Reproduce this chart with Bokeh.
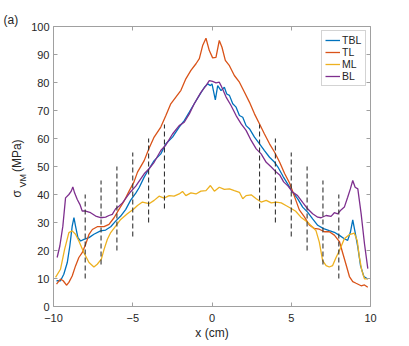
from bokeh.plotting import figure
from bokeh.models import LinearAxis, Legend, LegendItem, FixedTicker, Range1d, Title
from bokeh.embed import file_html
from bokeh.resources import INLINE

# ---- data ----
tbl_x = [-9.81, -9.56, -9.35, -9.13, -8.97, -8.82, -8.71, -8.61, -8.46, -8.29, -8.08, -7.76, -7.45, -7.03,
         -6.71, -6.39, -6.08, -5.76, -5.44, -5.13, -4.81, -4.6, -4.28, -3.97, -3.65, -3.23, -2.91, -2.49,
         -2.07, -1.75, -1.43, -1.12, -0.8, -0.48, -0.27, -0.1, 0.0, 0.21, 0.36, 0.57, 0.78, 0.93, 1.1,
         1.31, 1.52, 1.73, 1.94, 2.15, 2.36, 2.68, 3.0, 3.31, 3.63, 3.95, 4.16, 4.48, 4.8, 5.06, 5.4,
         5.72, 6.03, 6.35, 6.67, 7.04, 7.4, 7.72, 8.04, 8.35, 8.56, 8.73, 8.88, 9.03, 9.2, 9.37, 9.58, 9.83]
tbl_y = [9.2, 9.2, 11.5, 15.7, 21.6, 28.7, 31.7, 28.7, 24.6, 23.4, 24.0, 24.6, 25.8, 27.0,
         27.3, 28.5, 30.5, 32.3, 34.7, 38.0, 40.5, 42.4, 46.2, 49.2, 52.1, 54.5, 58.1, 60.5,
         64.1, 66.4, 69.4, 72.4, 75.4, 78.3, 79.5, 78.9, 79.5, 73.8, 78.9, 77.1, 78.3, 75.9, 75.4,
         72.4, 71.2, 68.2, 67.6, 64.6, 63.5, 60.5, 58.1, 55.7, 53.3, 51.5, 49.8, 46.5, 43.5, 41.0, 38.5,
         35.5, 33.7, 31.3, 29.0, 27.8, 27.1, 26.5, 25.4, 24.2, 23.6, 26.5, 30.9, 26.5, 21.2, 14.6, 10.7, 9.8]

tl_x = [-9.81, -9.56, -9.39, -9.18, -9.03, -8.82, -8.61, -8.4, -8.19, -7.97, -7.76, -7.55, -7.24, -6.81,
        -6.5, -6.18, -5.87, -5.55, -5.23, -4.92, -4.7, -4.28, -3.97, -3.65, -3.23, -2.91, -2.6, -2.28,
        -1.96, -1.65, -1.33, -1.01, -0.8, -0.59, -0.38, -0.17, 0.04, 0.25, 0.46, 0.63, 0.84, 1.1, 1.41,
        1.73, 2.05, 2.36, 2.68, 3.0, 3.31, 3.63, 3.95, 4.27, 4.58, 4.9, 5.19, 5.51, 5.82, 6.14, 6.45,
        6.77, 7.09, 7.4, 7.72, 8.04, 8.25, 8.46, 8.67, 8.88, 9.09, 9.41, 9.62, 9.83]
tl_y = [8.0, 9.8, 9.2, 7.6, 8.6, 10.9, 14.5, 17.5, 19.2, 22.2, 25.8, 27.5, 28.5, 28.5,
        29.3, 31.7, 34.7, 37.6, 41.2, 44.5, 48.0, 52.1, 56.5, 60.5, 64.1, 68.2, 72.4, 74.8,
        77.2, 81.3, 84.3, 86.7, 88.5, 93.2, 95.8, 91.4, 88.8, 89.0, 95.0, 92.6, 87.9, 86.0, 82.5,
        80.1, 76.5, 73.0, 68.8, 65.2, 61.6, 58.1, 55.1, 51.5, 47.5, 44.0, 39.5, 34.5, 32.1, 29.1, 27.9,
        27.6, 26.7, 26.7, 25.5, 23.2, 19.0, 14.9, 10.7, 8.9, 8.3, 7.4, 7.7, 6.9]

ml_x = [-9.87, -9.56, -9.3, -9.03, -8.82, -8.61, -8.4, -8.08, -7.76, -7.45, -7.24, -6.98, -6.81, -6.6,
        -6.39, -6.08, -5.76, -5.34, -4.92, -4.7, -4.39, -3.97, -3.65, -3.34, -3.02, -2.7, -2.39, -2.07,
        -1.86, -1.65, -1.33, -1.01, -0.7, -0.38, -0.1, 0.15, 0.46, 0.78, 1.1, 1.41, 1.73, 1.94, 2.15,
        2.47, 2.79, 3.1, 3.42, 3.74, 4.05, 4.37, 4.69, 5.0, 5.28, 5.61, 6.03, 6.35, 6.56, 6.77, 6.98,
        7.2, 7.4, 7.61, 7.82, 8.04, 8.35, 8.67, 8.98, 9.16, 9.3, 9.45, 9.62, 9.83]
ml_y = [10.4, 13.3, 20.4, 26.4, 27.0, 25.8, 23.4, 19.2, 15.7, 14.1, 15.1, 16.9, 20.4, 24.0,
        26.4, 28.7, 31.1, 33.1, 34.9, 36.1, 37.3, 36.7, 37.9, 39.4, 38.7, 39.6, 39.4, 40.2,
        41.1, 39.6, 40.6, 40.2, 41.2, 41.4, 43.2, 41.2, 42.6, 41.8, 42.0, 41.4, 40.8, 38.5, 39.6,
        39.9, 38.5, 37.3, 37.9, 37.0, 37.3, 37.0, 36.0, 35.0, 34.0, 31.9, 30.1, 28.3, 27.1, 23.0, 16.4,
        14.6, 14.1, 14.6, 17.4, 20.0, 24.2, 25.7, 26.2, 23.6, 17.6, 12.9, 9.9, 9.9]

bl_x = [-9.77, -9.6, -9.41, -9.24, -9.03, -8.88, -8.78, -8.67, -8.5, -8.33, -8.19, -7.97, -7.66, -7.34,
        -7.03, -6.71, -6.5, -6.29, -6.08, -5.87, -5.65, -5.34, -5.13, -4.81, -4.28, -3.97, -3.65, -3.23,
        -2.91, -2.49, -2.07, -1.75, -1.43, -1.12, -0.7, -0.38, -0.17, 0.04, 0.25, 0.46, 0.57, 0.89, 1.2,
        1.52, 1.84, 2.15, 2.47, 2.79, 3.1, 3.42, 3.74, 4.05, 4.27, 4.52, 4.8, 5.06, 5.4, 5.72, 6.03,
        6.35, 6.67, 6.88, 7.2, 7.51, 7.72, 7.93, 8.14, 8.35, 8.56, 8.73, 8.88, 9.03, 9.2, 9.41, 9.62, 9.83]
bl_y = [17.5, 21.6, 28.7, 38.8, 40.0, 41.2, 42.7, 40.6, 38.2, 36.4, 34.1, 34.1, 33.5, 32.3,
        31.7, 31.9, 32.5, 32.9, 34.9, 35.8, 37.0, 39.4, 41.0, 43.0, 47.4, 49.2, 51.5, 55.7,
        57.7, 61.6, 64.6, 65.8, 68.8, 72.4, 76.5, 78.9, 80.7, 80.4, 79.9, 80.1, 78.9, 74.8, 71.8,
        68.2, 65.2, 62.9, 59.3, 56.3, 54.5, 51.5, 49.8, 48.0, 47.0, 44.5, 43.0, 41.0, 39.6, 37.2, 34.9,
        33.1, 31.9, 31.7, 32.5, 32.2, 33.5, 33.1, 34.5, 35.5, 39.0, 42.0, 45.0, 42.6, 42.0, 33.1, 22.4, 13.5]

# dashed vertical markers
dash_x = [-8, -7, -6, -5, -4, -3, 3, 4, 5, 6, 7, 8]
dash_lo = [10, 15, 20, 25, 30, 35, 35, 30, 25, 20, 15, 10]
dash_hi = [40, 45, 50, 55, 60, 65, 65, 60, 55, 50, 45, 40]

x_ticks = [-10, -5, 0, 5, 10]
y_ticks = [0, 10, 20, 30, 40, 50, 60, 70, 80, 90, 100]

names = ["TBL", "TL", "ML", "BL"]
colors = ["#0072BD", "#D95319", "#EDB120", "#7E2F8E"]

FONT = "Liberation Sans"
AX = "#a0a0a0"
TXT = "#262626"

p = figure(width=408, height=345, output_backend="svg", toolbar_location=None,
           x_range=Range1d(-10, 10), y_range=Range1d(0, 100),
           min_border_left=53, min_border_right=38, min_border_top=26, min_border_bottom=39)
p.xaxis.visible = False
p.yaxis.visible = False
p.grid.visible = False
p.outline_line_color = None
p.background_fill_color = "white"
p.border_fill_color = "white"


def mk_axis(ticks, show_labels):
    a = LinearAxis(ticker=FixedTicker(ticks=ticks))
    a.axis_line_color = AX
    a.axis_line_width = 1
    a.major_tick_line_color = AX
    a.major_tick_in = 4
    a.major_tick_out = 0
    a.minor_tick_line_color = None
    a.major_label_text_font = FONT
    a.major_label_text_color = TXT
    if show_labels:
        a.major_label_text_font_size = "11px"
    else:
        a.major_label_overrides = {t: "" for t in ticks}
        a.major_label_text_font_size = "0px"
        a.major_label_standoff = 0
    return a

bx = mk_axis(x_ticks, True)
bx.major_label_standoff = 7
bx.axis_label = "x (cm)"
bx.axis_label_text_font = FONT
bx.axis_label_text_font_size = "12px"
bx.axis_label_text_font_style = "normal"
bx.axis_label_text_color = TXT
bx.axis_label_standoff = 1
p.add_layout(bx, "below")
ly = mk_axis(y_ticks, True)
ly.major_label_standoff = 4
p.add_layout(ly, "left")
p.add_layout(mk_axis(x_ticks, False), "above")
p.add_layout(mk_axis(y_ticks, False), "right")

# y label: sigma with subscript VM, then (MPa) (rotated titles on the left)
t_sub = Title(text="VM", align="left", offset=119, standoff=1, vertical_align="bottom",
              text_font=FONT, text_font_size="9px", text_font_style="normal", text_color=TXT)
t_main = Title(text="σ\u2003\u2002(MPa)", align="left", offset=109, standoff=-16, vertical_align="bottom",
               text_font=FONT, text_font_size="12px", text_font_style="normal", text_color=TXT)
p.add_layout(t_sub, "left")
p.add_layout(t_main, "left")

# panel tag
t_tag = Title(text="(a)", align="left", offset=-50, standoff=0,
              text_font=FONT, text_font_size="12px", text_font_style="normal", text_color=TXT)
p.add_layout(t_tag, "above")

series = [(tbl_x, tbl_y), (tl_x, tl_y), (ml_x, ml_y), (bl_x, bl_y)]
items = []
for (xs, ys), nm, c in zip(series, names, colors):
    r = p.line(xs, ys, line_color=c, line_width=1.3)
    items.append(LegendItem(label=nm, renderers=[r]))

p.segment(x0=dash_x, y0=dash_lo, x1=dash_x, y1=dash_hi,
          line_color="#333333", line_width=1.1, line_dash="5 3")

leg = Legend(items=items, location="top_right")
leg.margin = 4
leg.padding = 3
leg.spacing = 0
leg.glyph_width = 15
leg.glyph_height = 12
leg.label_height = 12
leg.label_standoff = 2
leg.label_text_font = FONT
leg.label_text_font_size = "10.5px"
leg.label_text_color = TXT
leg.border_line_color = "#a8a8a8"
leg.border_line_width = 1
leg.background_fill_color = "white"
leg.background_fill_alpha = 1
p.add_layout(leg)

open("out.html", "w").write(file_html(p, INLINE))
